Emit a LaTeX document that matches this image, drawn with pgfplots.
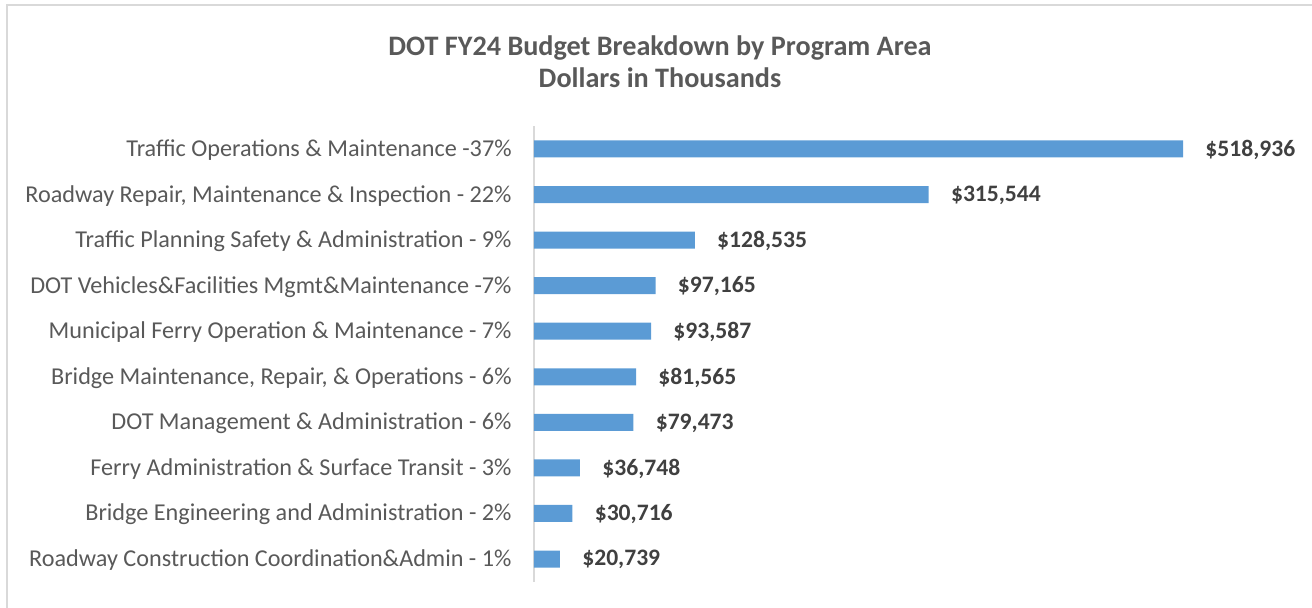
\documentclass[border=0pt]{standalone}
\usepackage{fontspec}
\setmainfont{Carlito}
\usepackage{pgfplots}
\usepackage{pgfplotstable}
\pgfplotsset{compat=1.18}
\definecolor{barc}{HTML}{5B9BD5}
\definecolor{txtc}{HTML}{595959}
\definecolor{valc}{HTML}{404040}
\definecolor{linec}{HTML}{D9D9D9}
\pgfplotstableread{
idx value label
0 20739 \$20,739
1 30716 \$30,716
2 36748 \$36,748
3 79473 \$79,473
4 81565 \$81,565
5 93587 \$93,587
6 97165 \$97,165
7 128535 \$128,535
8 315544 \$315,544
9 518936 \$518,936
}\datatbl
\begin{document}
\begin{tikzpicture}
\path[use as bounding box] (0,0) rectangle (656pt,304pt);
\draw[linec, line width=1pt] (3.5pt,0) -- (3.5pt,301.5pt) -- (656pt,301.5pt);
\node[font=\fontsize{14.1}{16}\selectfont\bfseries, color=txtc, align=center] at (330pt,273.2pt) {DOT FY24 Budget Breakdown by Program Area\\Dollars in Thousands};
\begin{axis}[
  at={(267pt,13.1pt)}, anchor=south west,
  scale only axis, width=324.5pt, height=227.8pt,
  xmin=0, xmax=518936, ymin=-0.5, ymax=9.5,
  axis x line=none,
  axis y line=left,
  y axis line style={-, draw=linec, line width=0.75pt},
  xtick=\empty,
  ytick={0,...,9},
  major tick length=0pt,
  yticklabels={
    {Roadway Construction Coordination\&Admin - 1\%},
    {Bridge Engineering and Administration - 2\%},
    {Ferry Administration \& Surface Transit - 3\%},
    {DOT Management \& Administration - 6\%},
    {Bridge Maintenance, Repair, \& Operations - 6\%},
    {Municipal Ferry Operation \& Maintenance - 7\%},
    {DOT Vehicles\&Facilities Mgmt\&Maintenance -7\%},
    {Traffic Planning Safety \& Administration - 9\%},
    {Roadway Repair, Maintenance \& Inspection - 22\%},
    {Traffic Operations \& Maintenance -37\%}},
  yticklabel style={font=\fontsize{12.1}{14}\selectfont, color=txtc, anchor=east, inner sep=0pt, xshift=-11pt, yshift=-0.6pt},
  clip=false,
]
\addplot[xbar, bar width=8.5pt, bar shift=0pt, fill=barc, draw=none,
  point meta=explicit symbolic, nodes near coords,
  nodes near coords style={font=\fontsize{11.8}{14}\selectfont\bfseries, color=valc, anchor=west, inner sep=0pt, xshift=11pt, yshift=-0.4pt}]
  table[x=value, y=idx, meta=label] {\datatbl};
\end{axis}
\end{tikzpicture}
\end{document}
